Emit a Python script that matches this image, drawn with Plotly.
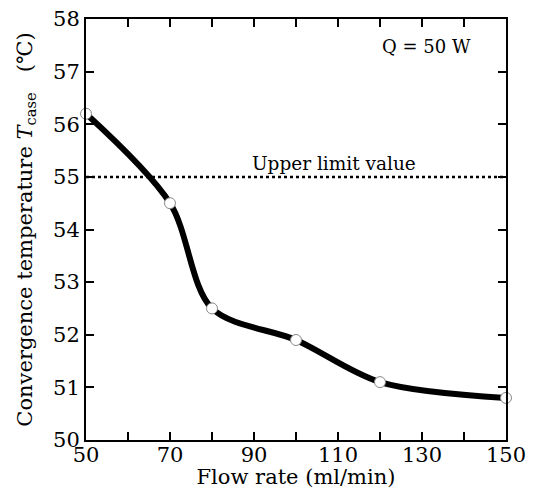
import plotly.graph_objects as go

flow_rate = [50, 70, 80, 100, 120, 150]
temperature = [56.2, 54.5, 52.5, 51.9, 51.1, 50.8]
limit_value = 55
limit_x = [50, 150]
x_tick_vals = [50, 70, 90, 110, 130, 150]
x_minor_step = 10
y_tick_vals = [50, 51, 52, 53, 54, 55, 56, 57, 58]

FONT = "DejaVu Serif"

fig = go.Figure()
fig.add_trace(go.Scatter(
    x=limit_x, y=[limit_value, limit_value], mode="lines",
    line=dict(color="black", width=2.5, dash="dot"), hoverinfo="skip", showlegend=False))
fig.add_trace(go.Scatter(
    x=flow_rate, y=temperature, mode="lines",
    line=dict(color="black", width=6, shape="spline", smoothing=0.9), showlegend=False))
fig.add_trace(go.Scatter(
    x=flow_rate, y=temperature, mode="markers",
    marker=dict(color="white", size=11, line=dict(color="#888888", width=1)),
    cliponaxis=False, showlegend=False))

fig.add_annotation(x=109, y=limit_value, text="Upper limit value", showarrow=False,
                   yanchor="bottom", yshift=1, font=dict(family=FONT, size=18.5, color="black"))
fig.add_annotation(x=131, y=57.47, text="Q = 50 W", showarrow=False,
                   font=dict(family=FONT, size=18, color="black"))

axis_common = dict(showgrid=False, zeroline=False, showline=True, linecolor="black",
                   linewidth=2, mirror="ticks", ticks="inside", ticklen=8, tickwidth=2,
                   tickcolor="black", automargin=False, ticklabeloverflow="allow",
                   tickfont=dict(family=FONT, size=21, color="black"))
fig.update_xaxes(range=[50, 150], tickmode="array", tickvals=x_tick_vals,
                 ticklabelstandoff=-5,
                 minor=dict(ticks="inside", ticklen=8, tickwidth=2, tickcolor="black",
                            tick0=50, dtick=x_minor_step, showgrid=False),
                 title=dict(text="Flow rate (ml/min)", font=dict(family=FONT, size=21, color="black"), standoff=0),
                 **axis_common)
fig.update_yaxes(range=[50, 58], tickmode="array", tickvals=y_tick_vals,
                 title=dict(text="Convergence temperature <i>T</i><sub>case</sub>   (℃)",
                            font=dict(family=FONT, size=21, color="black"), standoff=15),
                 **axis_common)
fig.update_layout(width=524, height=481, margin=dict(l=78, r=26, t=11, b=49, autoexpand=False),
                  plot_bgcolor="white", paper_bgcolor="white")
fig.write_html("out.html")
